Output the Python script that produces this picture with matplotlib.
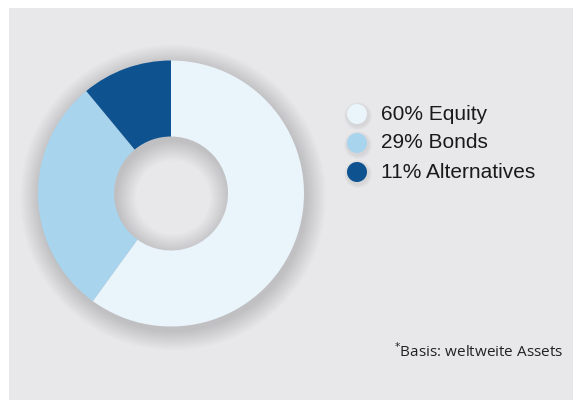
import matplotlib.pyplot as plt
from matplotlib.patches import Rectangle, Circle, Wedge

plt.rcParams['font.family'] = ['Liberation Sans', 'DejaVu Sans']

# data
labels = ['Equity', 'Bonds', 'Alternatives']
shares = [60, 29, 11]
colors = ['#eaf4fb', '#a9d4ee', '#0e5390']
note = 'Basis: weltweite Assets'

W, H = 573, 400
fig = plt.figure(figsize=(W / 100, H / 100), dpi=100, facecolor='white')
ax = fig.add_axes([0, 0, 1, 1])

# grey panel
ax.add_patch(Rectangle((9, 0), W - 9, H - 8, facecolor='#e8e8ea', edgecolor='none', zorder=0))

cx, cy = 171, H - 193.5
r_out, r_in = 133, 57

# soft shadow round the ring
for k in range(20, 0, -1):
    ax.add_patch(Wedge((cx + 2, cy - 4), r_out + k * 1.0, 0, 360, width=r_out - r_in + 2 * k * 1.0,
                       facecolor='#8a8a90', edgecolor='none', alpha=0.018, zorder=1))

ax.pie(shares, colors=colors, startangle=90, counterclock=False,
       center=(cx, cy), radius=r_out,
       wedgeprops=dict(width=r_out - r_in, edgecolor='none', zorder=2))

# legend with round markers
ly = [H - 114, H - 143, H - 172]
for lab, val, col, y in zip(labels, shares, colors, ly):
    for k in range(5, 0, -1):
        ax.add_patch(Circle((357 + 1, y - 2), 10 + k * 0.8, facecolor='#8a8a90',
                            edgecolor='none', alpha=0.035, zorder=3))
    ax.add_patch(Circle((357, y), 10, facecolor=col, edgecolor='none', zorder=4))
    ax.text(381, y, f'{val}% {lab}', fontsize=15, color='#1a1a1a', va='center', ha='left', zorder=5)

ax.text(563, H - 357, '$^{*}$' + note, fontsize=11, color='#222222', ha='right', va='baseline',
        family=['Open Sans', 'DejaVu Sans'])

ax.set_xlim(0, W)
ax.set_ylim(0, H)
ax.set_aspect('auto')
ax.axis('off')

fig.savefig('out.png', dpi=100, facecolor='white')
